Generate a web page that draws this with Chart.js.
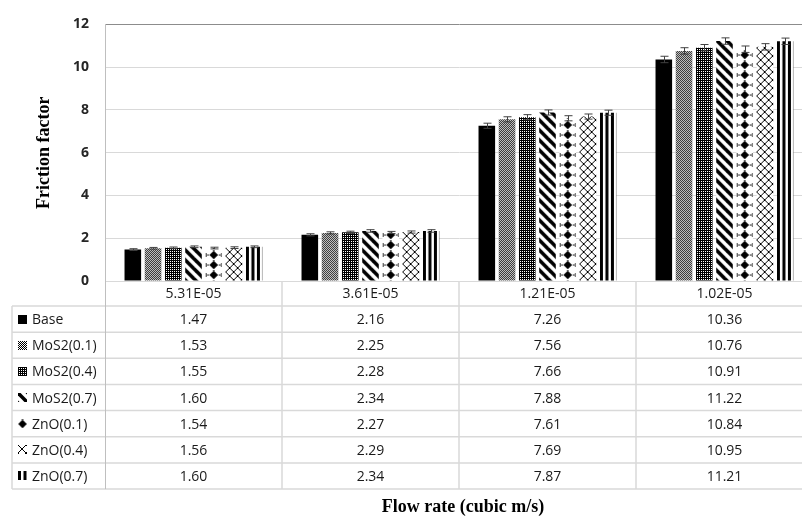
<!DOCTYPE html>
<html><head><meta charset="utf-8">
<script src="https://cdn.jsdelivr.net/npm/chart.js@4"></script>
<style>
html,body{margin:0;padding:0;overflow:hidden;background:#fff;width:802px;height:516px}
#wrap{width:815px;height:516px}
</style>
</head><body><div id="wrap"><canvas id="c" width="815" height="516"></canvas></div>
<script>
// ---- data ----
const categories = ['5.31E-05', '3.61E-05', '1.21E-05', '1.02E-05'];
const seriesNames = ['Base', 'MoS2(0.1)', 'MoS2(0.4)', 'MoS2(0.7)', 'ZnO(0.1)', 'ZnO(0.4)', 'ZnO(0.7)'];
const base    = [1.47, 2.16, 7.26, 10.36];
const mos2_01 = [1.53, 2.25, 7.56, 10.76];
const mos2_04 = [1.55, 2.28, 7.66, 10.91];
const mos2_07 = [1.60, 2.34, 7.88, 11.22];
const zno_01  = [1.54, 2.27, 7.61, 10.84];
const zno_04  = [1.56, 2.29, 7.69, 10.95];
const zno_07  = [1.60, 2.34, 7.87, 11.21];
// estimated error bar half-lengths
const errBase    = [0.04, 0.05, 0.12, 0.15];
const errMos2_01 = [0.04, 0.05, 0.12, 0.15];
const errMos2_04 = [0.04, 0.05, 0.12, 0.15];
const errMos2_07 = [0.04, 0.06, 0.12, 0.15];
const errZno_01  = [0.04, 0.05, 0.12, 0.15];
const errZno_04  = [0.04, 0.05, 0.12, 0.15];
const errZno_07  = [0.04, 0.06, 0.12, 0.15];
const yTicks = [0, 2, 4, 6, 8, 10, 12];
const xTitle = 'Flow rate (cubic m/s)';
const yTitle = 'Friction factor';

const seriesValues = [base, mos2_01, mos2_04, mos2_07, zno_01, zno_04, zno_07];
const seriesErrors = [errBase, errMos2_01, errMos2_04, errMos2_07, errZno_01, errZno_04, errZno_07];
const patternKinds = ['solid', 'dots', 'grid', 'diag', 'diamond', 'cross', 'vstripe'];

const CAT_PCT = 0.8, BAR_PCT = 0.82;
const TABLE_FONT = '14px "Open Sans", "Liberation Sans", sans-serif';
const TEXT_COLOR = '#1a1a1a';

// ---- patterns ----
const tileCache = {};
function tile(kind) {
  if (tileCache[kind]) return tileCache[kind];
  const c = document.createElement('canvas');
  let w = 8, h = 8;
  if (kind === 'dots') { w = 4; h = 4; }
  if (kind === 'grid') { w = 2; h = 2; }
  if (kind === 'diag') { w = 10; h = 10; }
  if (kind === 'diamond') { w = 20; h = 10; }
  if (kind === 'vstripe') { w = 11; h = 4; }
  c.width = w; c.height = h;
  const g = c.getContext('2d');
  g.fillStyle = '#fff'; g.fillRect(0, 0, w, h);
  g.fillStyle = '#000'; g.strokeStyle = '#000';
  if (kind === 'dots') {
    for (let x = 0; x < w; x++) for (let y = 0; y < h; y++) if ((x + y) % 2 === 0) g.fillRect(x, y, 1, 1);
  } else if (kind === 'grid') {
    g.fillRect(0, 0, 2, 2); g.fillStyle = '#fff'; g.fillRect(1, 1, 1, 1);
  } else if (kind === 'diag') {
    g.lineWidth = 3.6; g.lineCap = 'square';
    for (const k of [-10, 0, 10]) { g.beginPath(); g.moveTo(k, 0); g.lineTo(k + 10, 10); g.stroke(); }
  } else if (kind === 'cross') {
    g.lineWidth = 1;
    for (const k of [-8, 0, 8]) {
      g.beginPath(); g.moveTo(k, 0); g.lineTo(k + 8, 8); g.stroke();
      g.beginPath(); g.moveTo(k + 8, 0); g.lineTo(k, 8); g.stroke();
    }
  } else if (kind === 'diamond') {
    const cx = w / 2, cy = 5;
    g.beginPath(); g.moveTo(cx, cy - 4.3); g.lineTo(cx + 4.3, cy); g.lineTo(cx, cy + 4.3); g.lineTo(cx - 4.3, cy); g.closePath(); g.fill();
    g.fillRect(cx - 6.5, cy - 0.6, 1.3, 1.3); g.fillRect(cx + 5.3, cy - 0.6, 1.3, 1.3);
    g.fillRect(cx - 8.3, cy - 2, 1, 4); g.fillRect(cx + 7.5, cy - 2, 1, 4);
    g.fillRect(cx - 0.6, 0, 1.2, 1);
  } else if (kind === 'vstripe') {
    g.fillRect(0, 0, 3, h); g.fillRect(5.5, 0, 3, h);
  }
  tileCache[kind] = c;
  return c;
}
function makePattern(kind, tx, ty) {
  if (kind === 'solid') return '#000';
  const p = document.createElement('canvas').getContext('2d').createPattern(tile(kind), 'repeat');
  p.setTransform(new DOMMatrix([1, 0, 0, 1, tx, ty || 0]));
  return p;
}
function barGeom(chart, dataIndex, dsIndex) {
  const xs = chart.scales.x;
  const n = seriesValues.length;
  const size = (xs.width / categories.length) * CAT_PCT;
  const chunk = size / n;
  const cx = xs.getPixelForValue(dataIndex) - size / 2 + chunk * (dsIndex + 0.5);
  return { cx, w: chunk * BAR_PCT };
}
function bgFor(kind) {
  return (ctx) => {
    if (kind === 'solid') return '#000';
    if (ctx.type !== 'data' || !ctx.chart.scales.x) return makePattern(kind, 0);
    const { cx, w } = barGeom(ctx.chart, ctx.dataIndex, ctx.datasetIndex);
    let tx = cx - w / 2;
    if (kind === 'diamond') tx = cx - 10;
    return makePattern(kind, tx);
  };
}

// ---- plugins ----
const errorBars = {
  id: 'errorBars',
  afterDatasetsDraw(chart) {
    const ctx = chart.ctx, ys = chart.scales.y;
    ctx.save();
    ctx.strokeStyle = '#404040'; ctx.lineWidth = 1;
    seriesValues.forEach((vals, i) => {
      const meta = chart.getDatasetMeta(i);
      meta.data.forEach((el, j) => {
        const e = seriesErrors[i][j];
        const yt = ys.getPixelForValue(vals[j] + e), yb = ys.getPixelForValue(vals[j] - e);
        const x = Math.round(el.x) + 0.5;
        ctx.beginPath();
        ctx.moveTo(x, yt); ctx.lineTo(x, yb);
        ctx.moveTo(x - 4, yt); ctx.lineTo(x + 4, yt);
        ctx.moveTo(x - 4, yb); ctx.lineTo(x + 4, yb);
        ctx.stroke();
      });
    });
    ctx.restore();
  }
};

const dataTable = {
  id: 'dataTable',
  afterDraw(chart) {
    const ctx = chart.ctx, ca = chart.chartArea, xs = chart.scales.x;
    const top = ca.bottom, headH = 25, rowH = 26.15, left = 12;
    const nRows = seriesNames.length;
    const bottom = top + headH + nRows * rowH;
    const catW = xs.width / categories.length;
    ctx.save();
    ctx.strokeStyle = '#d9d9d9'; ctx.lineWidth = 1.5;
    ctx.beginPath();
    for (let r = 0; r <= nRows; r++) {
      const y = top + headH + r * rowH;
      ctx.moveTo(left, y); ctx.lineTo(ca.right, y);
    }
    ctx.moveTo(left, top + headH); ctx.lineTo(left, bottom);
    for (let i = 1; i <= categories.length; i++) {
      const x = xs.getPixelForValue(i - 1) + catW / 2;
      ctx.moveTo(x, top); ctx.lineTo(x, bottom);
    }
    ctx.stroke();
    ctx.strokeStyle = '#bfbfbf'; ctx.lineWidth = 1;
    ctx.beginPath(); ctx.moveTo(ca.left + 0.5, top); ctx.lineTo(ca.left + 0.5, bottom); ctx.stroke();

    ctx.font = TABLE_FONT; ctx.fillStyle = TEXT_COLOR;
    ctx.textBaseline = 'middle'; ctx.textAlign = 'center';
    categories.forEach((c, i) => ctx.fillText(c, xs.getPixelForValue(i), top + headH / 2 + 1));
    seriesNames.forEach((name, r) => {
      const yc = top + headH + r * rowH + rowH / 2 + 1;
      ctx.textAlign = 'center'; ctx.fillStyle = TEXT_COLOR;
      seriesValues[r].forEach((v, i) => ctx.fillText(v.toFixed(2), xs.getPixelForValue(i), yc));
      // legend key
      const kind = patternKinds[r];
      const kx = 18, ky = Math.round(yc - 5.5);
      ctx.fillStyle = makePattern(kind, kind === 'diamond' ? kx + 4.5 - 10 : kx, ky);
      ctx.fillRect(kx, ky, 9, 9);
      ctx.fillStyle = TEXT_COLOR; ctx.textAlign = 'left';
      ctx.fillText(name, 32, yc);
    });
    // x title
    ctx.font = 'bold 18px "Liberation Serif", "Times New Roman", serif';
    ctx.fillStyle = '#000'; ctx.textAlign = 'center'; ctx.textBaseline = 'middle';
    ctx.fillText(xTitle, 463, 507);
    ctx.restore();
  }
};

// ---- chart ----
new Chart(document.getElementById('c'), {
  type: 'bar',
  data: {
    labels: categories,
    datasets: seriesNames.map((name, i) => ({
      label: name,
      data: seriesValues[i],
      backgroundColor: bgFor(patternKinds[i]),
      borderWidth: 0,
      barPercentage: BAR_PCT,
      categoryPercentage: CAT_PCT
    }))
  },
  options: {
    responsive: false,
    animation: false,
    events: [],
    layout: { padding: { top: 20, bottom: 235, left: 0, right: 2 } },
    plugins: { legend: { display: false }, tooltip: { enabled: false }, title: { display: false } },
    scales: {
      x: { display: false },
      y: {
        min: 0, max: 12,
        afterBuildTicks: (s) => { s.ticks = yTicks.map(v => ({ value: v })); },
        afterFit: (s) => { s.width = 105; },
        ticks: {
          padding: 16,
          color: '#262626',
          font: { family: '"Open Sans", "Liberation Sans", sans-serif', size: 14, weight: 'bold' }
        },
        grid: {
          drawTicks: false,
          color: (c) => (c.tick && c.tick.value === 12) ? '#8c8c8c' : '#d9d9d9',
          lineWidth: 1
        },
        border: { display: true, color: '#bfbfbf' },
        title: {
          display: true, text: yTitle, color: '#000',
          font: { family: '"Liberation Serif", "Times New Roman", serif', size: 18, weight: 'bold' },
          padding: { top: 34, bottom: 0 }
        }
      }
    }
  },
  plugins: [errorBars, dataTable]
});
</script>
</body></html>
